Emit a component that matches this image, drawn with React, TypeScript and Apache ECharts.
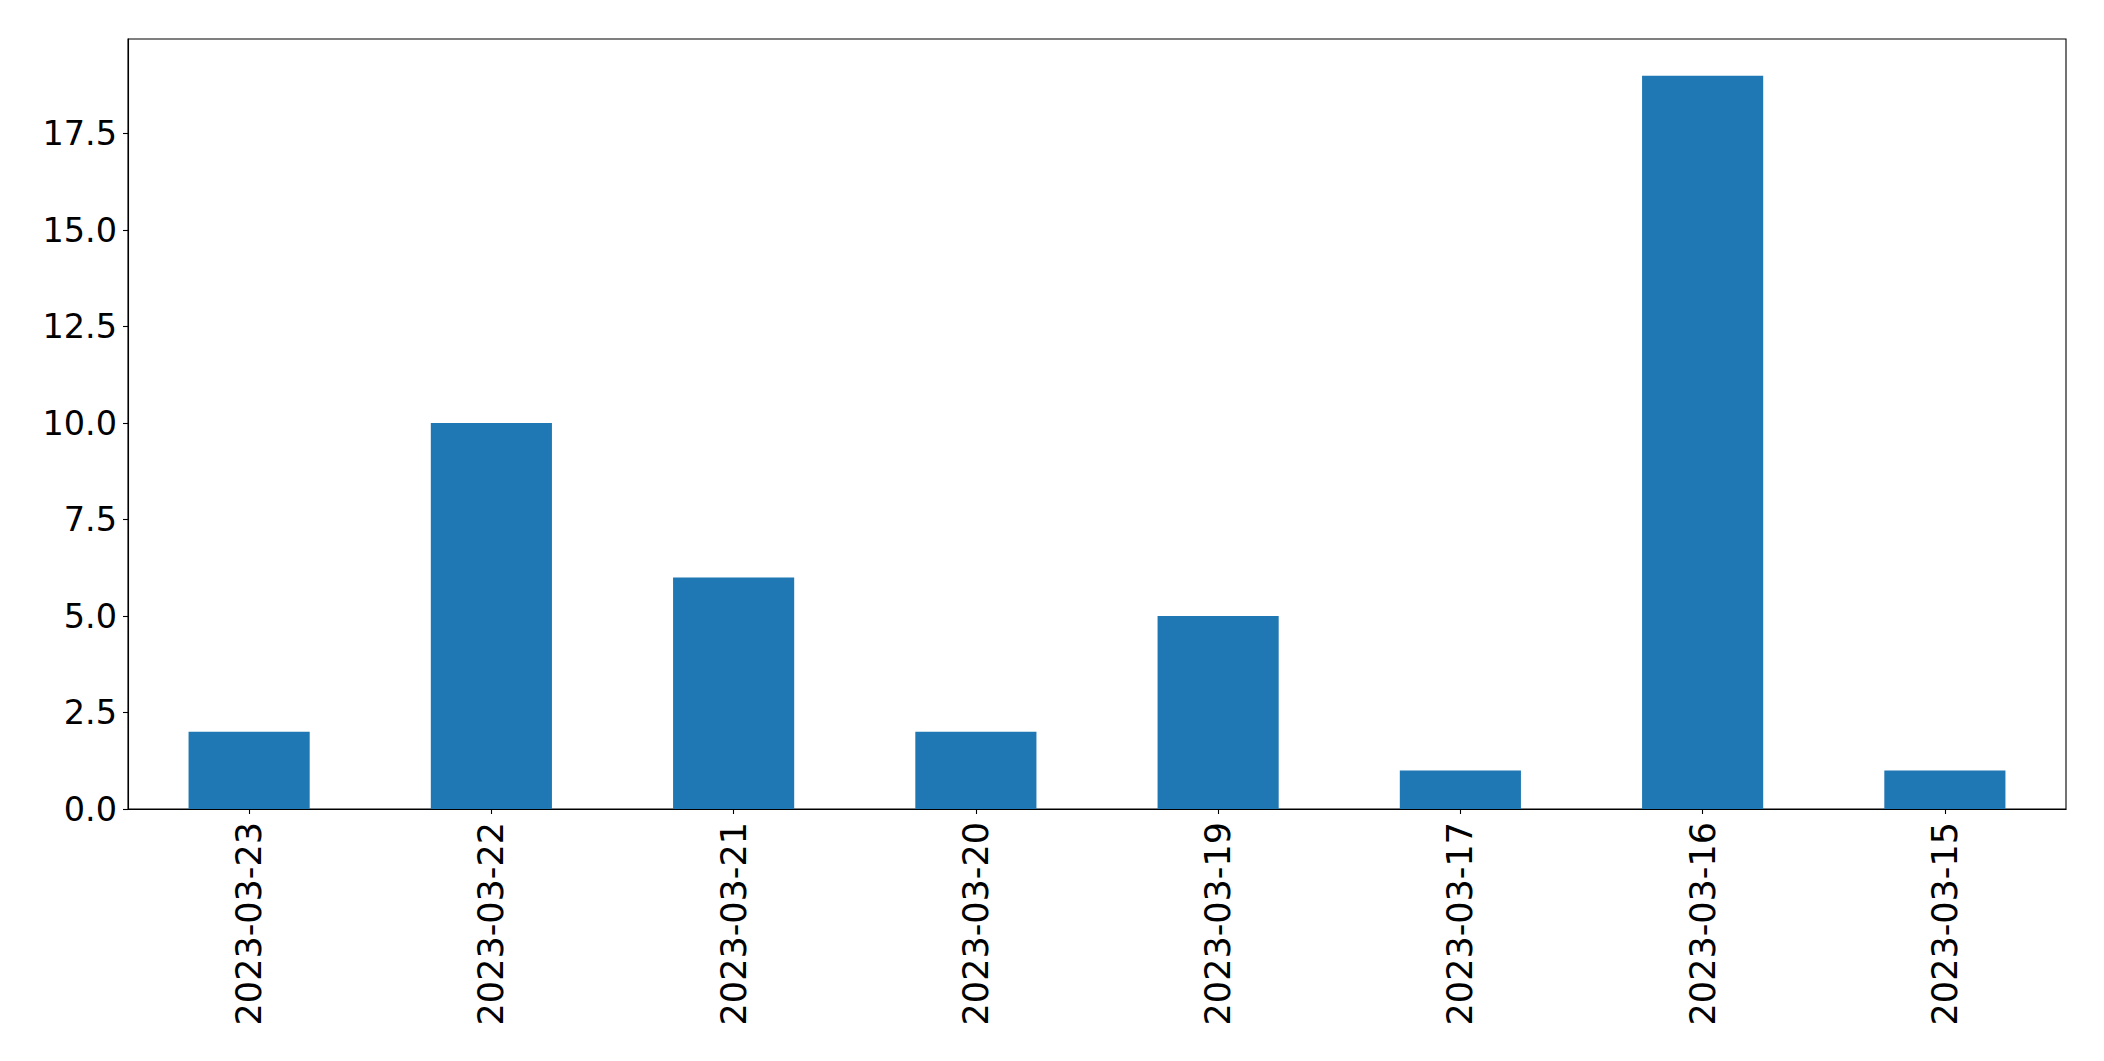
import React, { useEffect, useRef } from "react";
import * as echarts from "echarts";

const categories = [
  "2023-03-23",
  "2023-03-22",
  "2023-03-21",
  "2023-03-20",
  "2023-03-19",
  "2023-03-17",
  "2023-03-16",
  "2023-03-15",
];
const values = [2, 10, 6, 2, 5, 1, 19, 1];
const yTicks = [0, 2.5, 5, 7.5, 10, 12.5, 15, 17.5];
const yMax = 19.95;

export default function App() {
  const ref = useRef<HTMLDivElement>(null);
  useEffect(() => {
    document.body.style.margin = "0";
    const chart = echarts.init(ref.current!, null, { renderer: "svg" });
    const font = "DejaVu Sans";
    chart.setOption({
      animation: false,
      backgroundColor: "#ffffff",
      grid: {
        left: 128,
        top: 39,
        right: 38,
        bottom: 252,
        show: true,
        borderColor: "#000000",
        borderWidth: 1.1,
        backgroundColor: "transparent",
      },
      xAxis: {
        type: "category",
        data: categories,
        boundaryGap: true,
        axisLine: { show: true, lineStyle: { color: "#000", width: 1.1 } },
        axisTick: {
          show: true,
          alignWithLabel: true,
          length: 5,
          lineStyle: { color: "#000", width: 1.1 },
        },
        axisLabel: {
          rotate: 90,
          interval: 0,
          margin: 13,
          color: "#000",
          fontSize: 35,
          fontFamily: font,
        },
        splitLine: { show: false },
      },
      yAxis: {
        type: "value",
        min: 0,
        max: yMax,
        axisLine: { show: true, lineStyle: { color: "#000", width: 1.1 } },
        axisTick: {
          show: true,
          length: 5,
          lineStyle: { color: "#000", width: 1.1 },
          customValues: yTicks,
        },
        axisLabel: {
          margin: 11,
          color: "#000",
          fontSize: 33.5,
          fontFamily: font,
          customValues: yTicks,
          formatter: (v: number) => v.toFixed(1),
        },
        splitLine: { show: false },
      },
      series: [
        {
          type: "bar",
          data: values,
          barWidth: "50%",
          itemStyle: { color: "#1f77b4" },
        },
      ],
    });
    return () => chart.dispose();
  }, []);
  return (
    <div
      ref={ref}
      style={{ position: "absolute", left: 0, top: 0, width: 2104, height: 1061 }}
    />
  );
}
